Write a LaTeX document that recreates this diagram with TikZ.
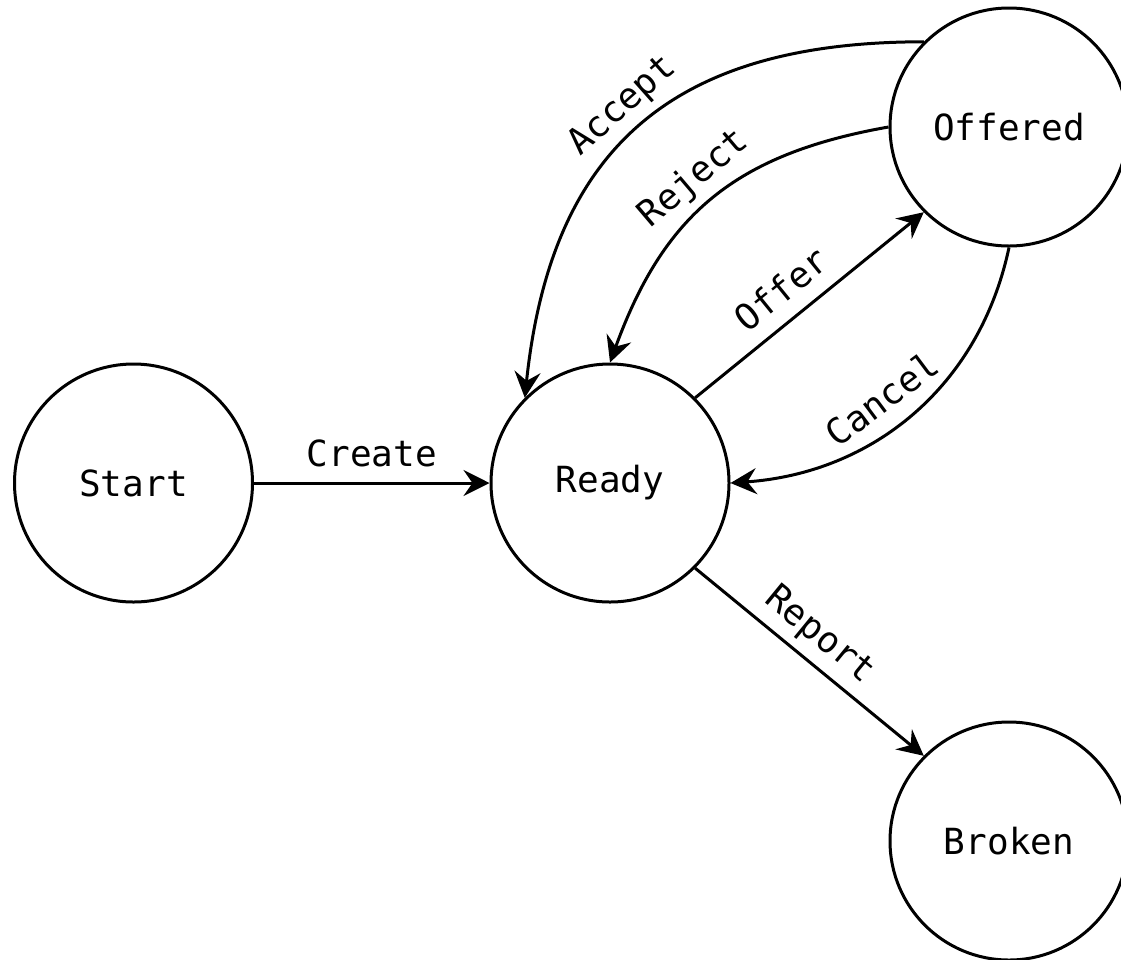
\documentclass[tikz,border=0pt]{standalone}
\usepackage{fontspec}
\setmonofont{DejaVu Sans Mono}
\usetikzlibrary{arrows.meta}
\begin{document}
\begin{tikzpicture}[x=1pt,y=-1pt,
  state/.style={circle,draw,line width=3pt,minimum size=238pt,inner sep=0pt,
    font=\ttfamily\fontsize{36}{43}\selectfont},
  edge/.style={line width=3pt,-{Stealth[length=26pt,width=26pt,inset=9pt]}},
  lbl/.style={font=\ttfamily\fontsize{36}{43}\selectfont,
    text height=0.75em,text depth=0.25em,inner sep=13pt}]
\useasboundingbox (0,0) rectangle (1121,959);
% states
\node[state] (start)   at (133.5,483) {Start};
\node[state] (ready)   at (610,483)   {Ready};
\node[state] (offered) at (1009,127)  {Offered};
\node[state] (broken)  at (1009,841)  {Broken};
% transitions
\draw[edge] (start) -- node[lbl,above] {Create} (ready);
\draw[edge] (ready.45) -- node[lbl,above,sloped,pos=0.46] {Offer} (offered.225);
\draw[edge] (ready.-45) -- node[lbl,above,sloped,pos=0.47] {Report} (broken.135);
\draw[edge] (offered.135) to[out=180,in=84,looseness=1.2]
  node[lbl,above,sloped] {Accept} (ready.135);
\draw[edge] (offered.180) to[out=190,in=70,looseness=1.1]
  node[lbl,above,sloped] {Reject} (ready.90);
\draw[edge] (offered.270) to[out=258,in=4,looseness=1]
  node[lbl,above,sloped,pos=0.54] {Cancel} (ready.0);
\end{tikzpicture}
\end{document}
